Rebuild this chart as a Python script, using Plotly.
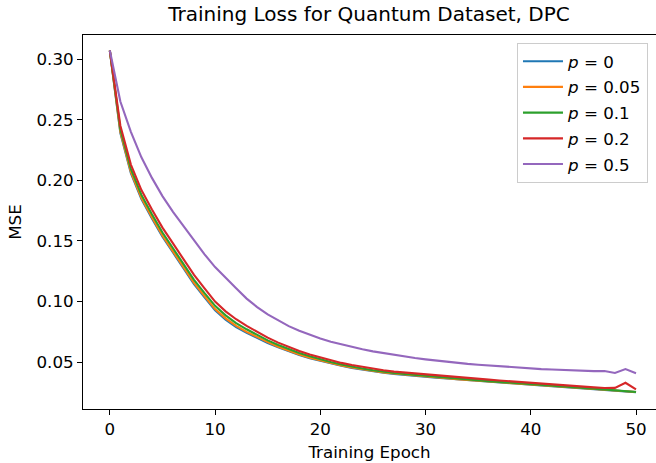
import plotly.graph_objects as go

epochs = list(range(51))

loss_p0 = [0.307, 0.239, 0.206, 0.1845, 0.1685, 0.1535, 0.1405, 0.1275, 0.1145, 0.1035,
           0.0928, 0.0852, 0.0790, 0.0742, 0.0698, 0.0659, 0.0623, 0.0590, 0.0560, 0.0534,
           0.0511, 0.0490, 0.0471, 0.0454, 0.0439, 0.0426, 0.0414, 0.0404, 0.0395, 0.0387,
           0.0380, 0.0373, 0.0366, 0.0359, 0.0352, 0.0346, 0.0339, 0.0333, 0.0327, 0.0321,
           0.0315, 0.0309, 0.0303, 0.0297, 0.0291, 0.0285, 0.0279, 0.0273, 0.0267, 0.0261,
           0.0254]

loss_p005 = [0.307, 0.240, 0.207, 0.1855, 0.1695, 0.1545, 0.1415, 0.1285, 0.1155, 0.1045,
             0.0939, 0.0862, 0.0800, 0.0751, 0.0706, 0.0666, 0.0629, 0.0595, 0.0565, 0.0538,
             0.0515, 0.0494, 0.0474, 0.0457, 0.0442, 0.0429, 0.0417, 0.0407, 0.0398, 0.0390,
             0.0382, 0.0375, 0.0368, 0.0361, 0.0354, 0.0348, 0.0341, 0.0335, 0.0329, 0.0323,
             0.0317, 0.0311, 0.0305, 0.0299, 0.0293, 0.0287, 0.0281, 0.0275, 0.0269, 0.0262,
             0.0255]

loss_p01 = [0.307, 0.242, 0.2095, 0.188, 0.172, 0.157, 0.144, 0.131, 0.118, 0.107,
            0.0965, 0.0887, 0.0823, 0.0772, 0.0725, 0.0681, 0.0642, 0.0607, 0.0576, 0.0549,
            0.0524, 0.0502, 0.0482, 0.0464, 0.0449, 0.0435, 0.0422, 0.0412, 0.0403, 0.0395,
            0.0387, 0.0380, 0.0373, 0.0366, 0.0359, 0.0352, 0.0345, 0.0339, 0.0332, 0.0326,
            0.0320, 0.0314, 0.0307, 0.0301, 0.0295, 0.0289, 0.0283, 0.0277, 0.0270, 0.0263,
            0.0255]

loss_p02 = [0.307, 0.245, 0.213, 0.192, 0.176, 0.161, 0.148, 0.135, 0.122, 0.111,
            0.100, 0.092, 0.0855, 0.0800, 0.0750, 0.0703, 0.0662, 0.0626, 0.0593, 0.0564,
            0.0539, 0.0516, 0.0495, 0.0477, 0.0461, 0.0447, 0.0434, 0.0423, 0.0415, 0.0407,
            0.0399, 0.0392, 0.0385, 0.0378, 0.0371, 0.0364, 0.0357, 0.0350, 0.0343, 0.0337,
            0.0330, 0.0324, 0.0317, 0.0311, 0.0305, 0.0299, 0.0293, 0.0288, 0.0289, 0.0331,
            0.0277]

loss_p05 = [0.307, 0.265, 0.240, 0.219, 0.202, 0.187, 0.174, 0.162, 0.150, 0.139,
            0.1285, 0.1195, 0.111, 0.1025, 0.0955, 0.0895, 0.0843, 0.0798, 0.0760, 0.0727,
            0.0697, 0.0670, 0.0647, 0.0626, 0.0607, 0.0590, 0.0575, 0.0560, 0.0547, 0.0535,
            0.0524, 0.0514, 0.0504, 0.0495, 0.0487, 0.0480, 0.0473, 0.0466, 0.0460, 0.0454,
            0.0449, 0.0444, 0.0440, 0.0436, 0.0432, 0.0429, 0.0427, 0.0428, 0.0412, 0.0444,
            0.0410]

series_names = ["<i>p</i> = 0", "<i>p</i> = 0.05", "<i>p</i> = 0.1", "<i>p</i> = 0.2", "<i>p</i> = 0.5"]
series_values = [loss_p0, loss_p005, loss_p01, loss_p02, loss_p05]
colors = ["#1f77b4", "#ff7f0e", "#2ca02c", "#d62728", "#9467bd"]

x_ticks = [0, 10, 20, 30, 40, 50]
y_ticks = [0.05, 0.10, 0.15, 0.20, 0.25, 0.30]
y_tick_labels = ["0.05", "0.10", "0.15", "0.20", "0.25", "0.30"]

FONT = "DejaVu Sans"
FS = 16.7

fig = go.Figure()
for i, (name, vals, col) in enumerate(zip(series_names, series_values, colors)):
    fig.add_trace(go.Scatter(x=epochs, y=vals, mode="lines", name=name,
                             legendgroup=f"g{i}",
                             line=dict(color=col, width=2.1)))

fig.update_layout(
    width=656, height=463,
    margin=dict(l=83, r=0, t=35, b=54),
    paper_bgcolor="white", plot_bgcolor="white",
    font=dict(family=FONT, size=FS, color="black"),
    title=dict(text="Training Loss for Quantum Dataset, DPC",
               x=369 / 656, xanchor="center", y=1 - 14 / 463, yanchor="middle",
               font=dict(family=FONT, size=20, color="black")),
    legend=dict(x=0.986, xanchor="right", y=0.979, yanchor="top",
                bgcolor="rgba(255,255,255,0.8)", bordercolor="#cccccc", borderwidth=1,
                font=dict(family=FONT, size=FS), tracegroupgap=1,
                itemwidth=40),
    showlegend=True,
)

fig.update_xaxes(range=[-2.55, 51.9], tickvals=x_ticks, ticks="outside", ticklen=5,
                 tickwidth=1, tickcolor="black", showline=True, linecolor="black",
                 linewidth=1, mirror=True, showgrid=False, zeroline=False,
                 title=dict(text="Training Epoch", standoff=8,
                            font=dict(family=FONT, size=FS)))
fig.update_yaxes(range=[0.0115, 0.3198], tickvals=y_ticks, ticktext=y_tick_labels,
                 ticks="outside", ticklen=5, tickwidth=1, tickcolor="black",
                 showline=True, linecolor="black", linewidth=1, mirror=True,
                 showgrid=False, zeroline=False,
                 title=dict(text="MSE", standoff=10, font=dict(family=FONT, size=FS)))

fig.write_html("out.html")
